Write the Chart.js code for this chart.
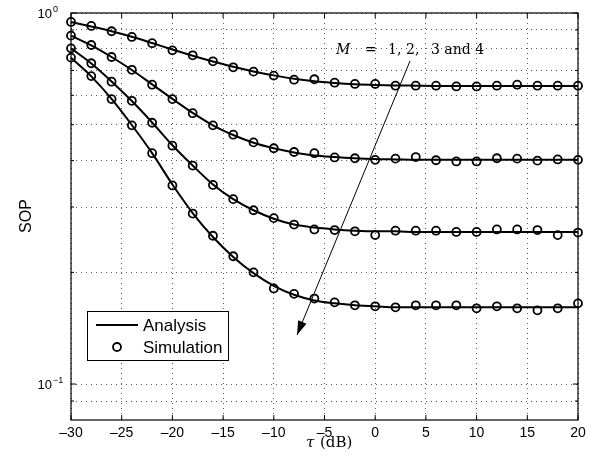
<!DOCTYPE html>
<html>
<head>
<meta charset="utf-8">
<script src="https://cdn.jsdelivr.net/npm/chart.js@4.4.0/dist/chart.umd.min.js"></script>
<style>
html, body { margin: 0; padding: 0; background: #fff; }
#grafico { display: block; }
</style>
</head>
<body>
<canvas id="grafico" width="600" height="466"></canvas>
<script>
// Valores de tau (dB)
const tau = [-30, -28, -26, -24, -22, -20, -18, -16, -14, -12, -10, -8, -6, -4, -2, 0, 2, 4, 6, 8, 10, 12, 14, 16, 18, 20];

// Curvas de analisis (M = 1..4)
const analisisM1 = [0.946, 0.920, 0.893, 0.863, 0.830, 0.797, 0.767, 0.740, 0.716, 0.696, 0.679, 0.665, 0.655, 0.648, 0.643, 0.640, 0.638, 0.637, 0.636, 0.636, 0.636, 0.636, 0.636, 0.636, 0.636, 0.636];
const analisisM2 = [0.869, 0.818, 0.761, 0.702, 0.642, 0.587, 0.538, 0.498, 0.469, 0.447, 0.432, 0.421, 0.413, 0.409, 0.406, 0.404, 0.403, 0.402, 0.402, 0.402, 0.402, 0.402, 0.402, 0.402, 0.402, 0.402];
const analisisM3 = [0.803, 0.731, 0.654, 0.579, 0.507, 0.440, 0.388, 0.345, 0.315, 0.294, 0.279, 0.269, 0.264, 0.261, 0.259, 0.258, 0.258, 0.257, 0.257, 0.257, 0.257, 0.257, 0.257, 0.257, 0.257, 0.257];
const analisisM4 = [0.758, 0.675, 0.587, 0.499, 0.419, 0.345, 0.289, 0.249, 0.220, 0.199, 0.184, 0.174, 0.168, 0.165, 0.163, 0.162, 0.161, 0.161, 0.161, 0.161, 0.161, 0.161, 0.161, 0.161, 0.161, 0.161];

// Puntos de simulacion
const simulacionM1 = [0.946, 0.923, 0.893, 0.862, 0.829, 0.793, 0.769, 0.741, 0.714, 0.695, 0.678, 0.661, 0.663, 0.649, 0.644, 0.644, 0.637, 0.637, 0.637, 0.634, 0.634, 0.637, 0.641, 0.637, 0.637, 0.637];
const simulacionM2 = [0.869, 0.820, 0.761, 0.703, 0.641, 0.586, 0.537, 0.498, 0.470, 0.448, 0.432, 0.422, 0.419, 0.408, 0.406, 0.402, 0.405, 0.409, 0.401, 0.398, 0.398, 0.406, 0.405, 0.400, 0.403, 0.402];
const simulacionM3 = [0.803, 0.732, 0.653, 0.580, 0.506, 0.439, 0.388, 0.344, 0.315, 0.294, 0.280, 0.269, 0.261, 0.260, 0.258, 0.252, 0.259, 0.259, 0.259, 0.257, 0.257, 0.261, 0.261, 0.260, 0.252, 0.256];
const simulacionM4 = [0.758, 0.676, 0.586, 0.498, 0.419, 0.343, 0.288, 0.251, 0.221, 0.200, 0.181, 0.175, 0.170, 0.166, 0.163, 0.162, 0.161, 0.163, 0.163, 0.163, 0.160, 0.162, 0.160, 0.158, 0.160, 0.165];

// Marcas de los ejes
const ticksX = [-30, -25, -20, -15, -10, -5, 0, 5, 10, 15, 20];
const gridY = [0.09, 0.1, 0.2, 0.3, 0.4, 0.5, 0.6, 0.7, 0.8, 0.9, 1];
const mayoresY = [0.1, 1];
const etiquetasY = [{ valor: 1, exp: '0' }, { valor: 0.1, exp: '\u22121' }];

const SANS = '"Liberation Sans", Arial, Helvetica, sans-serif';
const SERIF = '"DejaVu Serif", "Liberation Serif", serif';

const puntos = (valores) => tau.map((t, i) => ({ x: t, y: valores[i] }));

const linea = (valores) => ({
    data: puntos(valores),
    borderColor: '#000',
    borderWidth: 2,
    pointRadius: 0,
    cubicInterpolationMode: 'monotone',
    fill: false,
    clip: false
});

const marcadores = (valores) => ({
    data: puntos(valores),
    showLine: false,
    pointStyle: 'circle',
    pointRadius: 4,
    pointBorderWidth: 1.8,
    pointBorderColor: '#000',
    pointBackgroundColor: 'rgba(0,0,0,0)',
    clip: false
});

// Marco, etiquetas, leyenda y flecha
const marcoPlugin = {
    id: 'marco',
    afterDraw(chart) {
        const { ctx, chartArea: a, scales: { x, y } } = chart;
        ctx.save();

        // caja
        ctx.strokeStyle = '#000';
        ctx.lineWidth = 1.2;
        ctx.strokeRect(a.left, a.top, a.right - a.left, a.bottom - a.top);

        // marcas hacia dentro
        ctx.lineWidth = 1;
        ctx.beginPath();
        ticksX.forEach(v => {
            const px = x.getPixelForValue(v);
            ctx.moveTo(px, a.bottom); ctx.lineTo(px, a.bottom - 5);
            ctx.moveTo(px, a.top); ctx.lineTo(px, a.top + 5);
        });
        gridY.forEach(v => {
            const py = y.getPixelForValue(v);
            const largo = mayoresY.includes(v) ? 5 : 3;
            ctx.moveTo(a.left, py); ctx.lineTo(a.left + largo, py);
            ctx.moveTo(a.right, py); ctx.lineTo(a.right - largo, py);
        });
        ctx.stroke();

        // etiquetas eje x
        ctx.fillStyle = '#000';
        ctx.font = '14px ' + SANS;
        ctx.textAlign = 'center';
        ctx.textBaseline = 'alphabetic';
        ticksX.forEach(v => {
            const txt = v < 0 ? '\u2013' + Math.abs(v) : String(v);
            ctx.fillText(txt, x.getPixelForValue(v), a.bottom + 17);
        });

        // etiquetas eje y (10^n)
        etiquetasY.forEach(e => {
            const py = y.getPixelForValue(e.valor);
            ctx.font = '13px ' + SANS;
            ctx.textAlign = 'right';
            ctx.fillText('10', a.left - 19, py + 5);
            ctx.font = '9px ' + SANS;
            ctx.textAlign = 'left';
            ctx.fillText(e.exp, a.left - 18, py - 1);
        });

        // titulos
        ctx.font = 'italic 15px ' + SERIF;
        ctx.textAlign = 'left';
        ctx.fillText('\u03c4', 306, 447);
        ctx.font = '15px ' + SERIF;
        ctx.fillText('(dB)', 320, 447);

        ctx.save();
        ctx.translate(31, 216);
        ctx.rotate(-Math.PI / 2);
        ctx.font = '16px ' + SANS;
        ctx.textAlign = 'center';
        ctx.fillText('SOP', 0, 0);
        ctx.restore();

        // anotacion
        ctx.font = 'italic 14px ' + SERIF;
        ctx.textAlign = 'left';
        ctx.fillText('M', 336, 54);
        ctx.font = '14px ' + SERIF;
        ctx.fillText('=', 365, 54);
        ctx.fillText('1,', 388, 54);
        ctx.fillText('2,', 406, 54);
        ctx.fillText('3 and 4', 431, 54);

        // flecha
        const x0 = 410, y0 = 61, x1 = 297, y1 = 335;
        ctx.lineWidth = 1;
        ctx.beginPath();
        ctx.moveTo(x0, y0);
        ctx.lineTo(x1, y1);
        ctx.stroke();
        const ang = Math.atan2(y1 - y0, x1 - x0);
        const lp = 14, ap = 4.5;
        const bx = x1 - lp * Math.cos(ang), by = y1 - lp * Math.sin(ang);
        ctx.beginPath();
        ctx.moveTo(x1, y1);
        ctx.lineTo(bx + ap * Math.sin(ang), by - ap * Math.cos(ang));
        ctx.lineTo(bx - ap * Math.sin(ang), by + ap * Math.cos(ang));
        ctx.closePath();
        ctx.fill();

        // leyenda
        ctx.fillStyle = '#fff';
        ctx.fillRect(87, 311, 141, 49);
        ctx.strokeStyle = '#000';
        ctx.lineWidth = 1;
        ctx.strokeRect(87.5, 311.5, 141, 49);
        ctx.lineWidth = 2;
        ctx.beginPath();
        ctx.moveTo(96, 325); ctx.lineTo(138, 325);
        ctx.stroke();
        ctx.lineWidth = 1.8;
        ctx.beginPath();
        ctx.arc(117, 347, 4, 0, Math.PI * 2);
        ctx.stroke();
        ctx.fillStyle = '#000';
        ctx.font = '17px ' + SANS;
        ctx.fillText('Analysis', 143, 331);
        ctx.fillText('Simulation', 143, 353);

        ctx.restore();
    }
};

const crearGrafico = () => {
    const ctx = document.getElementById('grafico').getContext('2d');
    new Chart(ctx, {
        type: 'line',
        data: {
            datasets: [
                linea(analisisM1), linea(analisisM2), linea(analisisM3), linea(analisisM4),
                marcadores(simulacionM1), marcadores(simulacionM2), marcadores(simulacionM3), marcadores(simulacionM4)
            ]
        },
        options: {
            responsive: false,
            animation: false,
            layout: { autoPadding: false, padding: { left: 71, right: 22, top: 13, bottom: 46 } },
            plugins: { legend: { display: false }, tooltip: { enabled: false } },
            scales: {
                x: {
                    type: 'linear',
                    min: -30,
                    max: 20,
                    afterBuildTicks: axis => { axis.ticks = ticksX.map(v => ({ value: v })); },
                    ticks: { display: false },
                    grid: { color: 'rgba(0,0,0,0.65)', lineWidth: 1, drawTicks: false },
                    border: { display: false, dash: [1, 4] }
                },
                y: {
                    type: 'logarithmic',
                    min: 0.08,
                    max: 1,
                    afterBuildTicks: axis => { axis.ticks = gridY.map(v => ({ value: v })); },
                    ticks: { display: false },
                    grid: { color: 'rgba(0,0,0,0.65)', lineWidth: 1, drawTicks: false },
                    border: { display: false, dash: [1, 4] }
                }
            }
        },
        plugins: [marcoPlugin]
    });
};

document.addEventListener('DOMContentLoaded', crearGrafico);
</script>
</body>
</html>
